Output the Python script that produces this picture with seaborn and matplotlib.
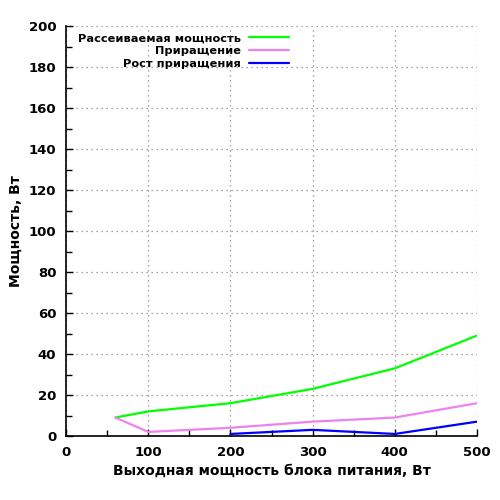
import matplotlib
matplotlib.use("Agg")
import matplotlib.pyplot as plt
import seaborn as sns
import pandas as pd
from matplotlib.ticker import MultipleLocator

# data
x_main = [60, 100, 200, 300, 400, 500]
dissipated = [9, 12, 16, 23, 33, 49]
increment = [9, 2, 4, 7, 9, 16]
x_growth = [200, 300, 400, 500]
growth = [1, 3, 1, 7]

labels = ["Рассеиваемая мощность", "Приращение", "Рост приращения"]
colors = ["#00ff00", "#ee82ee", "#0000ff"]

df = pd.concat([
    pd.DataFrame({"x": x_main, "y": dissipated, "s": labels[0]}),
    pd.DataFrame({"x": x_main, "y": increment, "s": labels[1]}),
    pd.DataFrame({"x": x_growth, "y": growth, "s": labels[2]}),
])

sns.set_theme(style="white")
plt.rcParams['font.family'] = ['DejaVu Sans']
plt.rcParams['font.weight'] = 'bold'
plt.rcParams['text.color'] = 'black'
plt.rcParams['axes.labelcolor'] = 'black'
plt.rcParams['xtick.color'] = 'black'
plt.rcParams['ytick.color'] = 'black'

fig = plt.figure(figsize=(5, 5), dpi=100)
ax = fig.add_axes([0.132, 0.128, 0.822, 0.82])

sns.lineplot(data=df, x="x", y="y", hue="s", palette=dict(zip(labels, colors)),
             linewidth=1.6, ax=ax, legend=False)

for lab, col in zip(labels, colors):
    ax.plot([], [], color=col, lw=1.6, label=lab)

ax.set_xlim(0, 500)
ax.set_ylim(0, 200)
ax.xaxis.set_major_locator(MultipleLocator(100))
ax.xaxis.set_minor_locator(MultipleLocator(50))
ax.yaxis.set_major_locator(MultipleLocator(20))
ax.yaxis.set_minor_locator(MultipleLocator(10))
ax.tick_params(which="both", direction="in", colors="black", labelsize=9.5,
               bottom=True, left=True)
ax.tick_params(which="major", length=5, width=1, pad=7)
ax.tick_params(which="minor", length=4, width=1)
for t in ax.get_xticklabels() + ax.get_yticklabels():
    t.set_fontweight("bold")

ax.grid(True, which="major", linestyle=(0, (1, 3)), color="#888888", linewidth=0.9)
for side in ["top", "right"]:
    ax.spines[side].set_visible(False)
for side in ["left", "bottom"]:
    ax.spines[side].set_color("black")
    ax.spines[side].set_linewidth(1.2)

ax.set_xlabel("Выходная мощность блока питания, Вт", fontsize=10, fontweight="bold")
ax.set_ylabel("Мощность, Вт", fontsize=10, fontweight="bold")

leg = ax.legend(loc="upper left", bbox_to_anchor=(0.144, 0.945), bbox_transform=fig.transFigure,
                frameon=False, markerfirst=False, fontsize=8.2, handlelength=3.5,
                labelspacing=0.25, handletextpad=0.7, borderpad=0)
for t in leg.get_texts():
    t.set_fontweight("bold")
    t.set_color("black")

fig.savefig("out.png", dpi=100, facecolor="white")
